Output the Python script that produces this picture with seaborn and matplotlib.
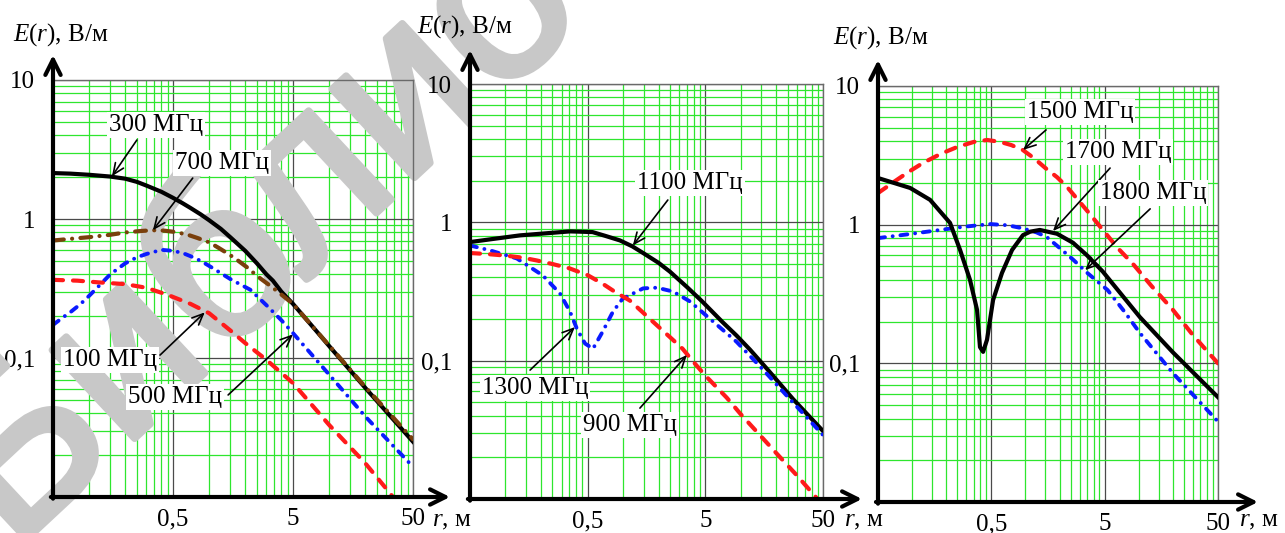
import matplotlib
matplotlib.use("Agg")
import matplotlib.pyplot as plt
import matplotlib.patheffects as pe
import seaborn as sns
import pandas as pd
from matplotlib.ticker import FixedLocator, NullFormatter

# ---------------- data ----------------
# Panel 1
r_100 = [0.05, 0.08, 0.12, 0.2, 0.3, 0.45, 0.7, 1.0, 1.5, 2.0, 3.0, 5.0, 10, 20, 32, 36]
E_100 = [0.365, 0.36, 0.35, 0.34, 0.32, 0.285, 0.245, 0.21, 0.158, 0.128, 0.097, 0.066, 0.033, 0.0175, 0.0107, 0.0094]
r_300 = [0.05, 0.07, 0.1, 0.15, 0.2, 0.25, 0.3, 0.4, 0.5, 0.6, 0.7, 0.85, 1.0, 1.25, 1.5,
         2.0, 2.5, 3.0, 3.4, 4.0, 5.0, 7.0, 10, 20, 50]
E_300 = [2.14, 2.12, 2.08, 2.02, 1.95, 1.85, 1.74, 1.57, 1.42, 1.3, 1.2, 1.08, 0.98, 0.85, 0.74,
         0.59, 0.48, 0.40, 0.36, 0.30, 0.245, 0.175, 0.122, 0.061, 0.025]
r_500 = [0.05, 0.06, 0.07, 0.085, 0.1, 0.125, 0.15, 0.2, 0.25, 0.3, 0.4, 0.5, 0.6, 0.7, 0.85,
         1.0, 1.5, 2.2, 3.0, 4.0, 5.0, 10, 20, 50]
E_500 = [0.173, 0.195, 0.214, 0.245, 0.28, 0.34, 0.40, 0.48, 0.53, 0.56, 0.60, 0.59, 0.57, 0.54, 0.50,
         0.46, 0.37, 0.31, 0.24, 0.187, 0.151, 0.076, 0.038, 0.0165]
r_700 = [0.05, 0.07, 0.1, 0.15, 0.2, 0.27, 0.34, 0.42, 0.5, 0.65, 0.8, 1.0, 1.2, 1.45, 1.7, 2.1,
         2.5, 3.4, 5, 7, 10, 20, 50]
E_700 = [0.70, 0.72, 0.74, 0.77, 0.80, 0.82, 0.83, 0.825, 0.81, 0.775, 0.73, 0.68, 0.62, 0.56, 0.51, 0.445,
         0.39, 0.32, 0.245, 0.175, 0.123, 0.062, 0.026]
# Panel 2
r_900 = [0.05, 0.07, 0.1, 0.14, 0.185, 0.25, 0.35, 0.5, 0.67, 0.85, 1.14, 1.5, 1.94, 2.5, 3.2, 4.0,
         5, 7.6, 10, 14, 20, 30, 44, 48]
E_900 = [0.60, 0.59, 0.575, 0.555, 0.53, 0.50, 0.465, 0.415, 0.36, 0.315, 0.272, 0.22, 0.18, 0.148, 0.122, 0.097,
         0.078, 0.054, 0.041, 0.030, 0.0215, 0.0148, 0.0102, 0.0093]
r_1100 = [0.05, 0.08, 0.133, 0.25, 0.354, 0.45, 0.55, 0.7, 0.94, 1.2, 1.48, 2.0, 2.5, 3.5, 4.7,
          7.0, 9.2, 12, 17.6, 27.7, 50]
E_1100 = [0.72, 0.76, 0.805, 0.84, 0.86, 0.855, 0.85, 0.80, 0.74, 0.67, 0.60, 0.51, 0.44, 0.34, 0.268,
          0.19, 0.152, 0.12, 0.083, 0.053, 0.031]
r_1300 = [0.05, 0.074, 0.125, 0.208, 0.291, 0.354, 0.405, 0.475, 0.555, 0.67, 0.82, 0.99,
          1.48, 1.94, 2.66, 3.7, 5.5, 9.2, 15.3, 26, 50]
E_1300 = [0.68, 0.627, 0.548, 0.413, 0.306, 0.226, 0.17, 0.133, 0.122, 0.162, 0.226, 0.28,
          0.333, 0.337, 0.316, 0.268, 0.20, 0.137, 0.087, 0.053, 0.029]
# Panel 3
r_1500 = [0.05, 0.07, 0.09, 0.125, 0.18, 0.25, 0.35, 0.46, 0.6, 0.75, 0.95, 1.2, 1.5, 1.9, 2.33,
          3.5, 4.8, 6.5, 8.9, 13, 20, 30, 50]
E_1500 = [1.69, 2.05, 2.36, 2.79, 3.25, 3.63, 3.95, 4.08, 3.95, 3.75, 3.45, 3.0, 2.56, 2.2, 1.87,
          1.26, 0.92, 0.68, 0.52, 0.36, 0.243, 0.16, 0.10]
r_1700 = [0.05, 0.096, 0.144, 0.216, 0.265, 0.324, 0.374, 0.397, 0.423, 0.458, 0.518, 0.621,
          0.762, 0.95, 1.1, 1.34, 1.9, 2.63, 3.5, 4.8, 10.2, 20, 50]
E_1700 = [2.17, 1.84, 1.51, 1.03, 0.657, 0.40, 0.243, 0.131, 0.121, 0.148, 0.286, 0.449,
          0.657, 0.84, 0.89, 0.916, 0.86, 0.74, 0.60, 0.46, 0.216, 0.12, 0.057]
r_1800 = [0.05, 0.1, 0.176, 0.3, 0.49, 0.7, 0.95, 1.25, 1.54, 2.0, 2.63, 3.5, 5.3, 7.5, 10.2, 20, 50]
E_1800 = [0.80, 0.86, 0.916, 0.97, 1.01, 0.99, 0.94, 0.88, 0.815, 0.68, 0.56, 0.45, 0.338, 0.235, 0.166, 0.085, 0.038]

x_ticks = [0.5, 5, 50]
x_tick_labels = ["0,5", "5", "50"]
y_ticks = [0.1, 1, 10]
y_tick_labels = ["0,1", "1", "10"]

# ---------------- styles ----------------
plt.rcParams["font.family"] = ["Liberation Serif", "DejaVu Serif"]
plt.rcParams["mathtext.fontset"] = "custom"
plt.rcParams["mathtext.rm"] = "Liberation Serif"
plt.rcParams["mathtext.it"] = "Liberation Serif:italic"

W, H = 1285, 533
FS = 18
SOLID = dict(color="black", linestyle="-", lw=3.0)
RED = dict(color="#ff1a1a", linestyle=(0, (2.4, 2.4)), lw=3.0, dash_capstyle="round")
BLUE = dict(color="#0a1aff", linestyle=(0, (1.8, 2.0, 0.01, 2.0)), lw=2.8, dash_capstyle="round")
BROWN = dict(color="#7a3f0c", linestyle=(0, (2.6, 2.0, 0.01, 2.0)), lw=3.0, dash_capstyle="round")


def px_rect(l, t, r, b):
    return [l / W, (H - b) / H, (r - l) / W, (b - t) / H]


fig = plt.figure(figsize=(W / 100, H / 100), dpi=100)

panels = [
    dict(rect=(53, 80, 413, 497), up=25, right=37, ylab=(61, 35), xlab=(452, 521),
         curves=[(r_300, E_300, SOLID), (r_700, E_700, BROWN), (r_500, E_500, BLUE), (r_100, E_100, RED)],
         notes=[("300 МГц", (0.36, 4.75), (0.25, 3.7), (0.155, 2.03)),
                ("700 МГц", (1.28, 2.53), (0.73, 1.97), (0.34, 0.83)),
                ("100 МГц", (0.149, 0.097), (0.39, 0.105), (0.92, 0.213)),
                ("500 МГц", (0.52, 0.0524), (1.44, 0.0542), (5.0, 0.148))]),
    dict(rect=(470, 84, 823, 499), up=34, right=39, ylab=(465, 27), xlab=(864, 521),
         curves=[(r_1100, E_1100, SOLID), (r_1300, E_1300, BLUE), (r_900, E_900, RED)],
         notes=[("1100 МГц", (3.7, 1.92), (2.4, 1.45), (1.21, 0.68)),
                ("1300 МГц", (0.178, 0.0634), (0.162, 0.0855), (0.39, 0.175)),
                ("900 МГц", (1.14, 0.0342), (1.39, 0.0454), (3.49, 0.11))]),
    dict(rect=(878, 86, 1218, 502), up=26, right=40, ylab=(881, 38), xlab=(1259, 521),
         curves=[(r_1500, E_1500, RED), (r_1800, E_1800, BLUE), (r_1700, E_1700, SOLID)],
         notes=[("1500 МГц", (3.03, 6.5), (1.52, 4.82), (0.952, 3.46)),
                ("1700 МГц", (6.56, 3.34), (5.58, 2.56), (1.75, 0.9)),
                ("1800 МГц", (13.4, 1.69), (12.6, 1.30), (3.36, 0.47))]),
]

minor_x = [k * d for d in (0.05, 0.5, 5) for k in range(2, 10)]
minor_y = [k * d for d in (0.01, 0.1, 1) for k in range(2, 10)]

axes = []
for p in panels:
    l, t, r, b = p["rect"]
    ax = fig.add_axes(px_rect(l, t, r, b))
    axes.append(ax)
    ax.set_xscale("log")
    ax.set_yscale("log")
    ax.set_xlim(0.05, 50)
    ax.set_ylim(0.01, 10)
    ax.set_axisbelow(True)
    ax.xaxis.set_major_locator(FixedLocator(x_ticks))
    ax.xaxis.set_minor_locator(FixedLocator(minor_x))
    ax.yaxis.set_major_locator(FixedLocator(y_ticks))
    ax.yaxis.set_minor_locator(FixedLocator(minor_y))
    ax.set_xticklabels(x_tick_labels)
    ax.set_yticklabels(y_tick_labels)
    ax.xaxis.set_minor_formatter(NullFormatter())
    ax.yaxis.set_minor_formatter(NullFormatter())
    ax.grid(which="minor", color="#2ee62e", lw=0.9)
    ax.grid(which="major", color="#4a4a4a", lw=0.9)
    ax.tick_params(which="both", length=0, labelsize=FS)
    ax.tick_params(axis="x", pad=8)
    ax.tick_params(axis="y", pad=13)
    for s in ("top", "right"):
        ax.spines[s].set_color("#6a6a6a")
        ax.spines[s].set_linewidth(1.0)
    for s in ("left", "bottom"):
        ax.spines[s].set_visible(False)

    for rr, ee, st in p["curves"]:
        df = pd.DataFrame({"r": rr, "E": ee})
        sns.lineplot(data=df, x="r", y="E", ax=ax, errorbar=None, legend=False, zorder=3, **st)
    ax.set_xlabel("")
    ax.set_ylabel("")

    hpx, wpx = b - t, r - l
    arrow = dict(arrowstyle="->,head_length=1.1,head_width=0.55", lw=3, color="black",
                 shrinkA=0, shrinkB=0)
    ax.annotate("", xy=(0, 1 + p["up"] / hpx), xytext=(0, -0.004), xycoords="axes fraction",
                arrowprops=arrow, zorder=6, annotation_clip=False)
    ax.annotate("", xy=(1 + p["right"] / wpx, 0), xytext=(-0.006, 0), xycoords="axes fraction",
                arrowprops=arrow, zorder=6, annotation_clip=False)

    for txt, pos, tail, tip in p["notes"]:
        ax.text(pos[0], pos[1], txt, fontsize=FS, ha="center", va="center", zorder=7,
                bbox=dict(facecolor="white", edgecolor="none", pad=1.5))
        ax.annotate("", xy=tip, xytext=tail,
                    arrowprops=dict(arrowstyle="->,head_length=0.8,head_width=0.35", lw=1.2,
                                    color="black", shrinkA=0, shrinkB=0), zorder=7)

    fig.text(p["ylab"][0] / W, 1 - p["ylab"][1] / H, r"$\mathit{E(r)}$, В/м",
             fontsize=FS, ha="center", va="center")
    fig.text(p["xlab"][0] / W, 1 - p["xlab"][1] / H, r"$\mathit{r}$, м",
             fontsize=FS, ha="center", va="center")

# watermark
axes[0].text(13 / W, -19 / H, "Библиотека", transform=fig.transFigure, rotation=43,
             rotation_mode="anchor", ha="left", va="baseline", fontsize=165,
             family="Liberation Sans", color="#c8c8c8", zorder=2, clip_on=False,
             path_effects=[pe.withStroke(linewidth=5, foreground="#c8c8c8")])

fig.savefig("out.png", dpi=100)
